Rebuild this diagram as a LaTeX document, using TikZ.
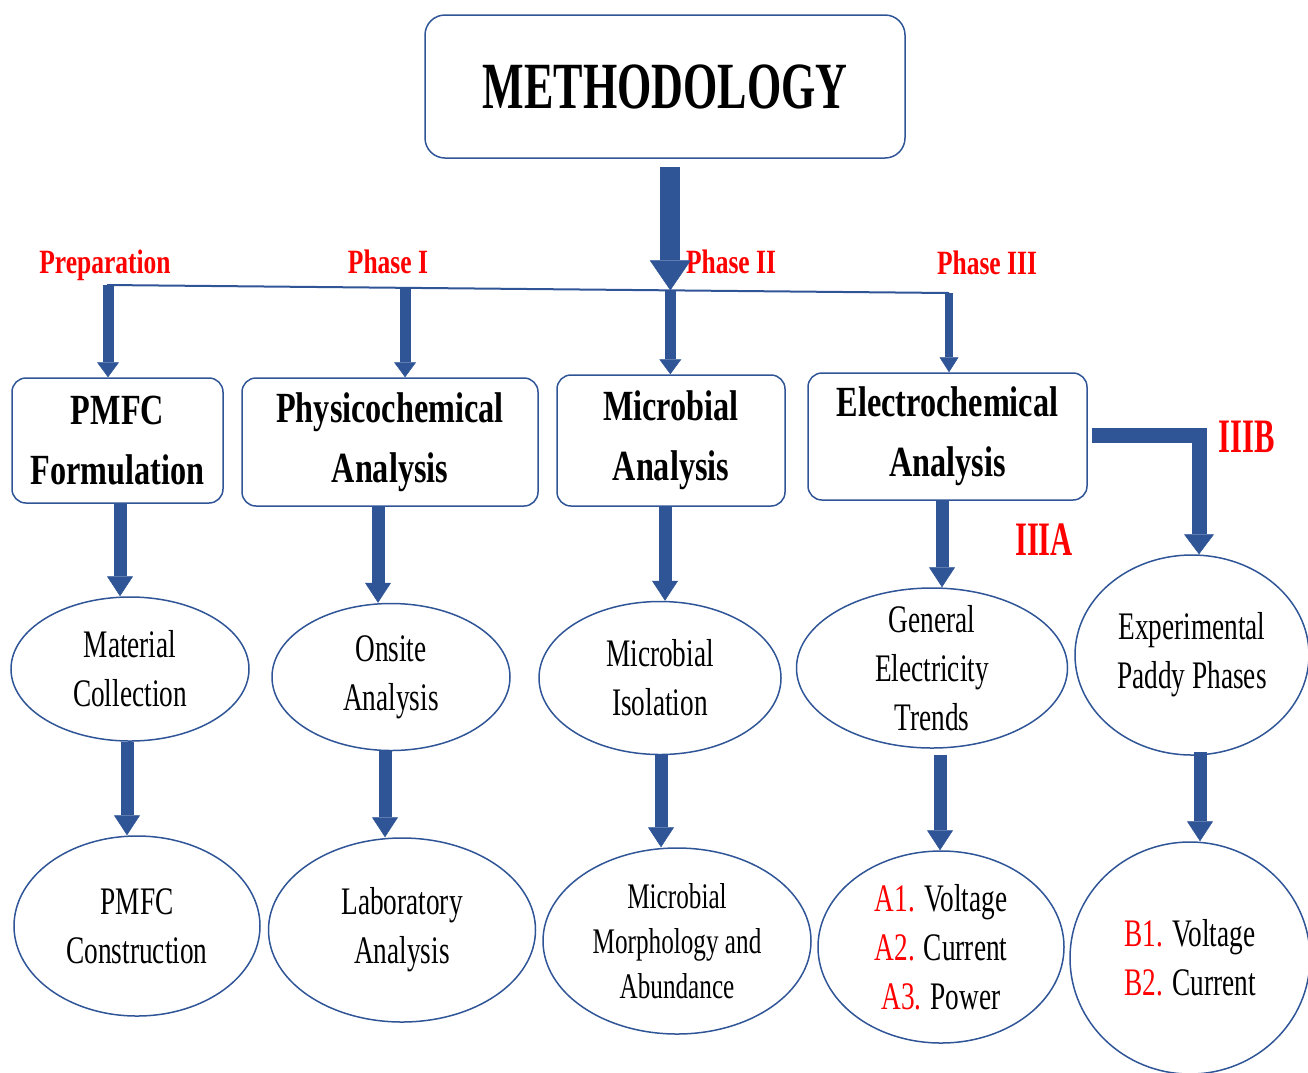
\documentclass[tikz,border=0pt]{standalone}
\usepackage{fontspec}
\usepackage{graphicx}
\usetikzlibrary{shapes.geometric,arrows.meta,calc}
\newfontfamily\tnr[FakeStretch=0.70]{Liberation Serif}
\newfontfamily\tnrb[FakeStretch=0.75]{Liberation Serif}
\definecolor{navy}{HTML}{2F5597}
\definecolor{redlbl}{HTML}{FF0000}
\begin{document}
\begin{tikzpicture}[x=1pt,y=-1pt,
  box/.style={draw=navy, line width=1.5pt, rounded corners=14pt, align=center,
    font=\tnrb\bfseries\fontsize{43}{60}\selectfont, inner sep=0pt},
  ell/.style={draw=navy, line width=1.5pt, ellipse, inner sep=0pt},
  etxt/.style={align=center, font=\tnr\fontsize{39}{49}\selectfont, inner sep=0pt},
  phase/.style={text=redlbl, font=\tnrb\bfseries\fontsize{34}{40}\selectfont, anchor=base, inner sep=0pt},
  bigarr/.style={draw=navy, line width=20pt, -{Triangle[length=30pt,width=41pt,line width=0.5pt]}},
  midarr/.style={draw=navy, line width=13pt, -{Triangle[length=20pt,width=26pt,line width=0.5pt]}},
  smarr/.style={draw=navy, line width=11pt, -{Triangle[length=15pt,width=22pt,line width=0.5pt]}},
  thinarr/.style={draw=navy, line width=8pt, -{Triangle[length=15pt,width=19pt,line width=0.5pt]}},
  barr/.style={draw=navy, line width=15pt, -{Triangle[length=20pt,width=30pt,line width=0.5pt]}},
  hline/.style={draw=navy, line width=2pt},
]
\useasboundingbox (0,0) rectangle (1308,1072);

% top box
\node[box, minimum width=480pt, minimum height=143pt, rounded corners=20pt,
  font=\tnrb\bfseries\fontsize{66}{70}\selectfont] (meth) at (665,86.5) {\scalebox{0.89}[1]{METHODOLOGY}};

% phase boxes
\node[box, minimum width=211pt, minimum height=125pt] (pf) at (117.5,440.5) {PMFC\\Formulation};
\node[box, minimum width=296pt, minimum height=128pt] (phy) at (390,442) {Physicochemical\\Analysis};
\node[box, minimum width=228pt, minimum height=131pt] (mic) at (671,440.5) {Microbial\\Analysis};
\node[box, minimum width=279pt, minimum height=127pt] (ele) at (947.5,436.5) {Electrochemical\\Analysis};

% ellipses row 1
\node[ell, minimum width=238pt, minimum height=144pt, label={[etxt]center:{Material\\Collection}}] (mat) at (130,669) {};
\node[ell, minimum width=238pt, minimum height=147pt, label={[etxt]center:{Onsite\\Analysis}}] (ons) at (391,677) {};
\node[ell, minimum width=242pt, minimum height=153pt, label={[etxt]center:{Microbial\\Isolation}}] (miso) at (660,678) {};
\node[ell, minimum width=271pt, minimum height=160pt, label={[etxt]center:{General\\Electricity\\Trends}}] (gen) at (932,668) {};
\node[ell, minimum width=234pt, minimum height=200pt, label={[etxt]center:{Experimental\\Paddy Phases}}] (exp) at (1192,655) {};

% ellipses row 2
\node[ell, minimum width=246pt, minimum height=180pt, label={[etxt]center:{PMFC\\Construction}}] (pmfcc) at (137,926) {};
\node[ell, minimum width=267pt, minimum height=184pt, label={[etxt]center:{Laboratory\\Analysis}}] (lab) at (402,930) {};
\node[ell, minimum width=268pt, minimum height=186pt, label={[etxt,font=\tnr\fontsize{36}{45}\selectfont]center:{Microbial\\Morphology and\\Abundance}}] (morph) at (677,941) {};
\node[ell, minimum width=246pt, minimum height=192pt, label={[etxt]center:{{\color{redlbl}A1.} Voltage\\{\color{redlbl}A2.} Current\\{\color{redlbl}A3.} Power}}] (aE) at (941,947) {};
\node[ell, minimum width=240pt, minimum height=232pt, label={[etxt]center:{{\color{redlbl}B1.} Voltage\\{\color{redlbl}B2.} Current}}] (bE) at (1190,958) {};

% phase labels
\node[phase] (lprep) at (105,273) {Preparation};
\node[phase] (lp1) at (388,273) {Phase I};
\node[phase] (lp2) at (731,273) {Phase II};
\node[phase] (lp3) at (987,274) {Phase III};
\node[phase, font=\tnrb\bfseries\fontsize{48}{50}\selectfont] (liiib) at (1247,452) {\scalebox{0.85}[1]{IIIB}};
\node[phase, font=\tnrb\bfseries\fontsize{48}{50}\selectfont] (liiia) at (1044,555) {\scalebox{0.85}[1]{IIIA}};

% distribution line
\coordinate (hl) at (107,285);
\coordinate (hr) at (949,293);
\draw[hline] (hl) -- (hr);
\coordinate (s1) at ($(hl)!0.0012!(hr)$);
\coordinate (s2) at ($(hl)!0.354!(hr)$);
\coordinate (s3) at ($(hl)!0.669!(hr)$);

% big arrow
\path (meth.south -| s3) ++(0,8) coordinate (bstart);
\draw[bigarr] (bstart) -- (s3);

% arrows to phase boxes
\draw[smarr] (s1) -- (s1 |- pf.north);
\draw[smarr] (s2) -- (s2 |- phy.north);
\draw[smarr] (s3) -- (s3 |- mic.north);
\draw[thinarr] (hr) -- (hr |- ele.north);

% boxes to first ellipses
\draw[midarr] ([xshift=2.5pt]pf.south) -- ([xshift=-10pt]mat.north);
\draw[midarr] ([xshift=-12pt]phy.south) -- ([xshift=-13pt]ons.north);
\draw[midarr] ([xshift=-6pt]mic.south) -- ([xshift=5pt]miso.north);
\draw[midarr] ([xshift=-5.5pt]ele.south) -- ([xshift=10pt]gen.north);

% IIIB connector
\draw[barr] ([xshift=4pt,yshift=1.5pt]ele.east) -| ([xshift=7pt]exp.north);

% first ellipses to second
\draw[midarr] ([xshift=-3pt]mat.south) -- ([xshift=-10pt]pmfcc.north);
\draw[midarr] ([xshift=-6pt]ons.south) -- ([xshift=-17pt]lab.north);
\draw[midarr] ([xshift=1pt]miso.south) -- ([xshift=-16pt]morph.north);
\draw[midarr] ([xshift=8pt,yshift=-6pt]gen.south) -- ([xshift=-1pt]aE.north);
\draw[midarr] ([xshift=8pt,yshift=4pt]exp.south) -- ([xshift=10pt]bE.north);
\end{tikzpicture}
\end{document}
